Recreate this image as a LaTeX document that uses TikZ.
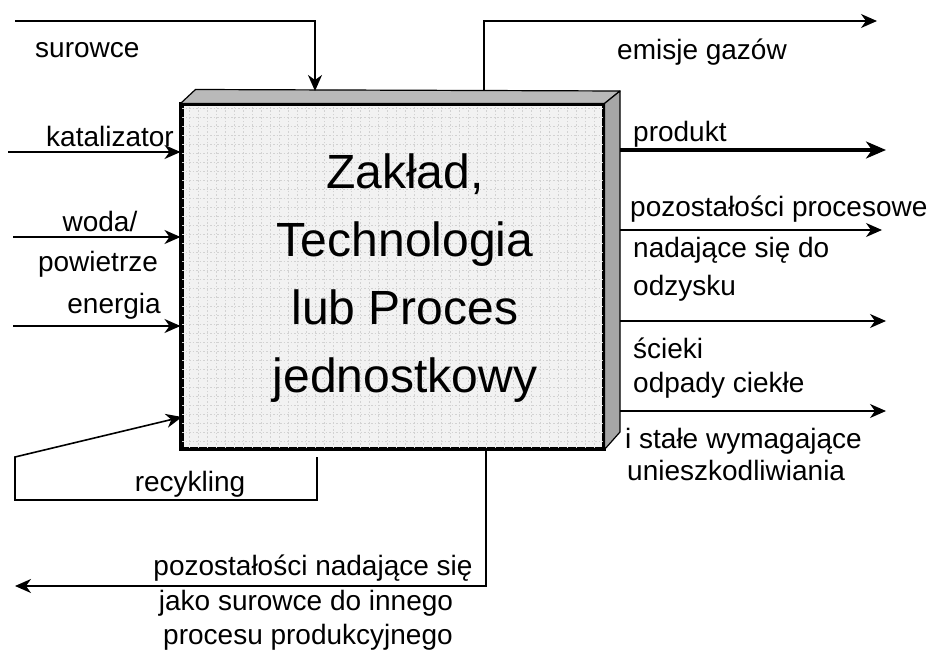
\documentclass[tikz,border=0pt]{standalone}
\usepackage{fontspec}
\setmainfont{Liberation Sans}
\usetikzlibrary{arrows.meta,calc}
\begin{document}
\begin{tikzpicture}[x=1pt,y=-1pt,
  conn/.style={line width=1.6pt, -{Stealth[length=16pt,width=14pt,inset=5pt]}},
  lbl/.style={font=\fontsize{28}{32}\selectfont, inner sep=0pt},
  boxface/.style={draw=black, line width=3pt, fill=gray!10},
  sideface/.style={draw=black, line width=1.2pt, line join=round}]
\useasboundingbox (0,0) rectangle (939,652);
\fill[white] (0,0) rectangle (939,652);
% 3D box
\node[boxface, minimum width=421pt, minimum height=343pt, inner sep=0pt] (box) at (392.5,276.5) {};
\begin{scope}
  \clip (box.north west) rectangle (box.south east);
  \draw[gray!35, line width=0.6pt, dash pattern=on 1.5pt off 2pt] (182,105) grid[step=9pt] (603,448);
\end{scope}
\draw[boxface, line width=3pt, fill=none] (box.north west) rectangle (box.south east);
\filldraw[sideface, fill=gray!55] (box.north west) -- ++(15,-14) -- (620,91) -- (box.north east) -- cycle;
\filldraw[sideface, fill=gray!70] (box.north east) -- (620,91) -- (620,432) -- (box.south east) -- cycle;
\node[font=\fontsize{48}{68}\selectfont, align=center, inner sep=0pt] (title) at (405,278)
  {Zakład,\\Technologia\\lub Proces\\jednostkowy};
% coordinates
\coordinate (s0) at (15,21);
\coordinate (s1) at (315,91);
\coordinate (k0) at (8,152);
\coordinate (w0) at (13,237);
\coordinate (e0) at (13,326);
\coordinate (r0) at (317,457);
\coordinate (r1) at (15,500);
\coordinate (r2) at (15,457);
\coordinate (r3) at (182,417);
\coordinate (g0) at (484,91);
\coordinate (g1) at (877,21);
\coordinate (p1) at (886,150);
\coordinate (q1) at (882,230);
\coordinate (o1) at (886,321);
\coordinate (c1) at (886,411);
\coordinate (b0) at (486,449);
\coordinate (b1) at (15,586);
% inputs
\draw[conn] (s0) -| (s1);
\draw[conn] (k0) -- (k0 -| box.west);
\draw[conn] (w0) -- (w0 -| box.west);
\draw[conn] (e0) -- (e0 -| box.west);
\draw[conn] (r0) |- (r1) -- (r2) -- (r3);
% outputs
\draw[conn] (g0) |- (g1);
\draw[line width=3.2pt, -{Stealth[length=20pt,width=17pt,inset=6pt]}] (620,150) -- (p1);
\draw[conn] (620,230) -- (q1);
\draw[conn] (620,321) -- (o1);
\draw[conn] (620,411) -- (c1);
\draw[conn] (b0) |- (b1);
% labels
\node[lbl, anchor=base west] (ls) at (35,58) {surowce};
\node[lbl, anchor=base east] (lk) at (174,147) {katalizator};
\node[lbl, anchor=base] (lw) at (100,232) {woda/};
\node[lbl, anchor=base] (lp) at (98,271) {powietrze};
\node[lbl, anchor=base east] (le) at (161,313) {energia};
\node[lbl, anchor=base] (lr) at (190,491) {recykling};
\node[lbl, anchor=base] (lb1) at (313,575) {pozostałości nadające się};
\node[lbl, anchor=base] (lb2) at (306,610) {jako surowce do innego};
\node[lbl, anchor=base] (lb3) at (308,644) {procesu produkcyjnego};
\node[lbl, anchor=base west] (lg) at (617,60) {emisje gazów};
\node[lbl, anchor=base west] (lpr) at (633,142) {produkt};
\node[lbl, anchor=base west] (lq1) at (630,217) {pozostałości procesowe};
\node[lbl, anchor=base west] (lq2) at (633,258) {nadające się do};
\node[lbl, anchor=base west] (lq3) at (633,295) {odzysku};
\node[lbl, anchor=base west] (lc1) at (633,358) {ścieki};
\node[lbl, anchor=base west] (lc2) at (633,392) {odpady ciekłe};
\node[lbl, anchor=base west] (lc3) at (625,448) {i stałe wymagające};
\node[lbl, anchor=base west] (lc4) at (627,480) {unieszkodliwiania};
\end{tikzpicture}
\end{document}
